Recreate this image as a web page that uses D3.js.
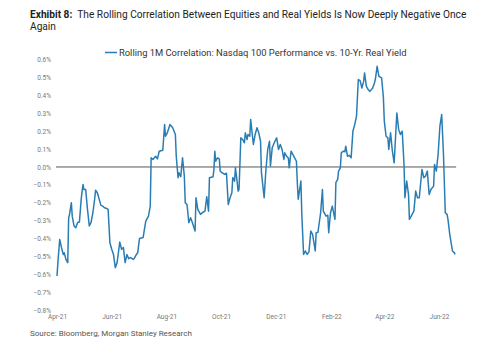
<!DOCTYPE html>
<head>
    <meta charset="utf-8">
    <script src="https://d3js.org/d3.v7.min.js"></script>
</head>
<style>
    body { margin: 0; background: #fff; }
    text { font-family: Roboto, "Liberation Sans", sans-serif; }
</style>
<body>
    <div id="chart"></div>
</body>

<script>
    const dates = [
        "2021-04-01","2021-04-02","2021-04-04","2021-04-06","2021-04-08","2021-04-09","2021-04-11","2021-04-13","2021-04-14","2021-04-15",
        "2021-04-17","2021-04-18","2021-04-20","2021-04-22","2021-04-24","2021-04-26","2021-04-28","2021-04-29","2021-04-30","2021-05-01",
        "2021-05-03","2021-05-05","2021-05-07","2021-05-09","2021-05-11","2021-05-13","2021-05-14","2021-05-16","2021-05-18","2021-05-20",
        "2021-05-22","2021-05-24","2021-05-27","2021-05-28","2021-05-30","2021-06-01","2021-06-03","2021-06-05","2021-06-07","2021-06-08",
        "2021-06-10","2021-06-12","2021-06-14","2021-06-16","2021-06-18","2021-06-20","2021-06-22","2021-06-25","2021-06-26","2021-06-28",
        "2021-06-30","2021-07-02","2021-07-06","2021-07-09","2021-07-12","2021-07-14","2021-07-15","2021-07-17","2021-07-20","2021-07-22",
        "2021-07-24","2021-07-28","2021-07-30","2021-07-31","2021-08-02","2021-08-05","2021-08-08","2021-08-11","2021-08-12","2021-08-14",
        "2021-08-15","2021-08-17","2021-08-19","2021-08-21","2021-08-22","2021-08-24","2021-08-26","2021-08-28","2021-08-30","2021-09-02",
        "2021-09-03","2021-09-05","2021-09-08","2021-09-10","2021-09-13","2021-09-15","2021-09-17","2021-09-18","2021-09-22","2021-09-23",
        "2021-09-24","2021-09-25","2021-09-27","2021-09-29","2021-09-30","2021-10-02","2021-10-05","2021-10-07","2021-10-09","2021-10-11",
        "2021-10-13","2021-10-14","2021-10-16","2021-10-17","2021-10-19","2021-10-20","2021-10-21","2021-10-23","2021-10-25","2021-10-27",
        "2021-10-28","2021-10-30","2021-10-31","2021-11-02","2021-11-03","2021-11-05","2021-11-06","2021-11-08","2021-11-10","2021-11-12",
        "2021-11-14","2021-11-15","2021-11-18","2021-11-20","2021-11-22","2021-11-24","2021-11-25","2021-11-27","2021-11-30","2021-12-02",
        "2021-12-04","2021-12-06","2021-12-08","2021-12-10","2021-12-11","2021-12-13","2021-12-15","2021-12-16","2021-12-18","2021-12-20",
        "2021-12-22","2021-12-24","2021-12-25","2021-12-26","2021-12-29","2021-12-30","2022-01-01","2022-01-03","2022-01-05","2022-01-07",
        "2022-01-09","2022-01-11","2022-01-14","2022-01-15","2022-01-17","2022-01-20","2022-01-22","2022-01-23","2022-01-26","2022-01-28",
        "2022-01-29","2022-01-31","2022-02-02","2022-02-05","2022-02-06","2022-02-08","2022-02-09","2022-02-11","2022-02-12","2022-02-14",
        "2022-02-16","2022-02-17","2022-02-19","2022-02-21","2022-02-23","2022-02-25","2022-02-27","2022-03-01","2022-03-03","2022-03-05",
        "2022-03-07","2022-03-09","2022-03-10","2022-03-12","2022-03-14","2022-03-16","2022-03-19","2022-03-21","2022-03-22","2022-03-24",
        "2022-03-26","2022-03-29","2022-03-31","2022-04-01","2022-04-03","2022-04-05","2022-04-06","2022-04-08","2022-04-10","2022-04-12",
        "2022-04-14","2022-04-15","2022-04-17","2022-04-19","2022-04-21","2022-04-23","2022-04-24","2022-04-26","2022-04-28","2022-04-29",
        "2022-05-01","2022-05-04","2022-05-06","2022-05-08","2022-05-10","2022-05-13","2022-05-15","2022-05-17","2022-05-19","2022-05-21",
        "2022-05-23","2022-05-26","2022-05-27","2022-05-29","2022-05-31","2022-06-02","2022-06-04","2022-06-06","2022-06-08","2022-06-10",
        "2022-06-11","2022-06-13","2022-06-16","2022-06-18","2022-06-19"
    ];
    const correlation = [
        -0.61,-0.535,-0.405,-0.45,-0.49,-0.48,-0.517,-0.535,-0.284,-0.265,
        -0.20,-0.275,-0.33,-0.34,-0.31,-0.308,-0.18,-0.135,-0.098,-0.126,
        -0.126,-0.237,-0.33,-0.31,-0.256,-0.18,-0.13,-0.144,-0.18,-0.215,
        -0.219,-0.228,-0.234,-0.237,-0.424,-0.46,-0.49,-0.563,-0.535,-0.498,
        -0.42,-0.46,-0.45,-0.535,-0.49,-0.513,-0.507,-0.517,-0.513,-0.494,
        -0.48,-0.40,-0.395,-0.303,-0.275,-0.219,0.051,0.042,0.06,0.045,
        0.088,0.094,0.237,0.172,0.191,0.237,0.219,0.182,0.06,-0.06,
        -0.032,-0.055,0.051,-0.051,-0.2,-0.21,-0.312,-0.284,-0.312,-0.358,
        -0.172,-0.237,-0.265,-0.256,-0.247,-0.166,-0.247,-0.06,-0.055,-0.014,
        0.088,0.032,0.051,0.045,-0.023,-0.032,-0.042,-0.035,-0.21,-0.172,
        -0.144,-0.06,-0.079,-0.005,-0.088,-0.135,-0.126,0.163,0.154,0.135,
        0.191,0.154,0.182,0.172,0.265,0.172,0.126,0.182,0.219,0.191,
        0.144,-0.032,-0.172,-0.014,0.098,0.144,0.005,0.107,0.144,0.163,
        0.098,0.126,0.098,0.042,0.079,0.06,0.05,-0.005,0.088,0.07,
        0.051,0.032,-0.088,-0.18,-0.079,-0.265,-0.489,-0.47,-0.489,-0.475,
        -0.358,-0.377,-0.47,-0.368,-0.365,-0.256,-0.126,-0.247,-0.275,-0.27,
        -0.368,-0.256,-0.219,-0.293,-0.088,-0.07,-0.023,-0.005,0.079,0.088,
        0.085,0.116,0.06,0.065,0.051,0.2,0.237,0.284,0.489,0.483,
        0.442,0.48,0.526,0.451,0.433,0.423,0.442,0.47,0.489,0.563,
        0.507,0.498,0.387,0.256,0.172,0.163,0.098,0.191,0.088,0.023,
        0.21,0.302,0.21,0.182,0.2,0.014,-0.172,-0.079,-0.154,-0.293,
        -0.275,-0.247,-0.135,-0.172,-0.172,-0.014,-0.06,-0.051,-0.023,-0.154,
        -0.126,-0.107,0.014,-0.023,0.07,0.228,0.293,0.07,-0.256,-0.265,
        -0.293,-0.377,-0.47,-0.479,-0.489
    ];
    const xTickDates = ["2021-04-01","2021-06-01","2021-08-01","2021-10-01","2021-12-01","2022-02-01","2022-04-01","2022-06-01"];
    const yTicks = [0.6,0.5,0.4,0.3,0.2,0.1,0.0,-0.1,-0.2,-0.3,-0.4,-0.5,-0.6,-0.7,-0.8];

    const seriesName = "Rolling 1M Correlation: Nasdaq 100 Performance vs. 10-Yr. Real Yield";
    const lineColor = "#2a7db3";

    const W = 500, H = 345;
    const parse = d3.timeParse("%Y-%m-%d");
    const data = dates.map((d, i) => ({date: parse(d), value: correlation[i]}));

    const svg = d3.select("#chart")
        .append("svg")
        .attr("width", W)
        .attr("height", H);

    // title: fit the first line to the width it has in the reference
    const title = svg.append("text")
        .attr("x", 30)
        .attr("y", 18)
        .style("font-size", "11px")
        .style("fill", "#222");
    title.append("tspan").style("font-weight", "bold").text("Exhibit 8:");
    title.append("tspan").attr("dx", 5).text("The Rolling Correlation Between Equities and Real Yields Is Now Deeply Negative Once");
    const titleSize = 11 * 432 / title.node().getComputedTextLength();
    title.style("font-size", titleSize + "px");
    svg.append("text")
        .attr("x", 30)
        .attr("y", 29.5)
        .style("font-size", titleSize + "px")
        .style("fill", "#222")
        .text("Again");

    // scales
    const x = d3.scaleTime()
        .domain([parse("2021-04-01"), parse("2022-06-01")])
        .range([57, 439]);
    const y = d3.scaleLinear()
        .domain([-0.8, 0.6])
        .range([310, 59.7]);

    // y axis labels
    const yAxis = svg.append("g")
        .attr("transform", "translate(51,0)")
        .call(d3.axisLeft(y).tickValues(yTicks).tickSize(0).tickPadding(0)
            .tickFormat(d => d3.format(".1f")(d) + "%"));
    yAxis.select(".domain").remove();
    yAxis.selectAll("text")
        .style("font-size", "6.5px")
        .style("fill", "#777")
        .style("font-family", "Roboto, sans-serif");

    // x axis labels
    const xAxis = svg.append("g")
        .attr("transform", "translate(0,314)")
        .call(d3.axisBottom(x).tickValues(xTickDates.map(parse)).tickSize(0).tickPadding(0)
            .tickFormat(d3.timeFormat("%b-%y")));
    xAxis.select(".domain").remove();
    xAxis.selectAll("text")
        .style("font-size", "6.5px")
        .style("fill", "#777")
        .style("font-family", "Roboto, sans-serif");

    // zero line
    const xExtent = d3.extent(data, d => d.date);
    svg.append("line")
        .attr("x1", x(xExtent[0]) - 1)
        .attr("x2", x(xExtent[1]) + 1)
        .attr("y1", y(0))
        .attr("y2", y(0))
        .attr("stroke", "#555")
        .attr("stroke-width", 1);

    // series line
    const line = d3.line()
        .x(d => x(d.date))
        .y(d => y(d.value));
    svg.append("path")
        .datum(data)
        .attr("d", line)
        .attr("fill", "none")
        .attr("stroke", lineColor)
        .attr("stroke-width", 1.5)
        .attr("stroke-linejoin", "round");

    // legend
    svg.append("line")
        .attr("x1", 105).attr("x2", 117)
        .attr("y1", 52.5).attr("y2", 52.5)
        .attr("stroke", lineColor)
        .attr("stroke-width", 1.5);
    svg.append("text")
        .attr("x", 119)
        .attr("y", 55.5)
        .style("font-size", "9.4px")
        .style("fill", "#333")
        .text(seriesName);

    // source
    svg.append("text")
        .attr("x", 30)
        .attr("y", 336)
        .style("font-size", "8px")
        .style("fill", "#555")
        .text("Source: Bloomberg, Morgan Stanley Research");
</script>
